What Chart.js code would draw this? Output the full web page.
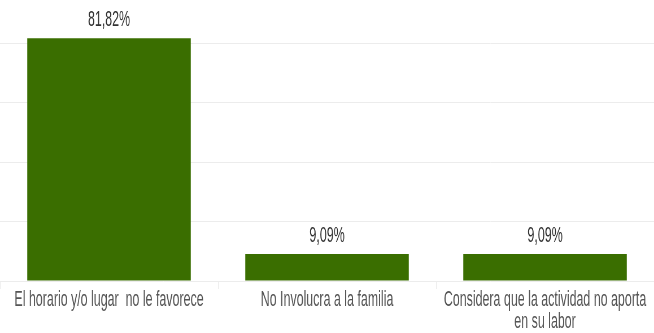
<!DOCTYPE html>
<html>
<head>
<meta charset="utf-8">
<script src="https://cdn.jsdelivr.net/npm/chart.js@4.4.1/dist/chart.umd.min.js"></script>
<style>
  html, body { margin: 0; padding: 0; background: #fff; overflow: hidden; }
  /* the chart is laid out wide and squeezed back to 654px, giving the tall narrow lettering */
  #wrap { width: 1158px; height: 333px; transform: scaleX(0.5648); transform-origin: 0 0; }
</style>
</head>
<body>
<div id="wrap"><canvas id="motivos"></canvas></div>
<script>
const categories = [
  "El horario y/o lugar  no le favorece",
  "No Involucra a la familia",
  ["Considera que la actividad no aporta", "en su labor"]
];
const percentages = [81.82, 9.09, 9.09];
const gridSteps = [0, 20, 40, 60, 80];

// value written over each bar, e.g. "81,82%"
function pctText(v) {
  return v.toFixed(2).replace(".", ",") + "%";
}

const valueLabels = {
  id: "valueLabels",
  afterDatasetsDraw(chart) {
    const ctx = chart.ctx;
    const meta = chart.getDatasetMeta(0);
    ctx.save();
    ctx.font = "22px 'Liberation Sans', Arial, sans-serif";
    ctx.fillStyle = "#333";
    ctx.textAlign = "center";
    ctx.textBaseline = "middle";
    for (let i = 0; i < meta.data.length; i++) {
      const bar = meta.data[i];
      ctx.fillText(pctText(percentages[i]), bar.x, bar.y - 18);
    }
    ctx.restore();
  }
};

new Chart(document.getElementById("motivos"), {
  type: "bar",
  data: {
    labels: categories,
    datasets: [{
      data: percentages,
      backgroundColor: "#3a6e00",
      barPercentage: 0.75,
      categoryPercentage: 1
    }]
  },
  options: {
    responsive: true,
    maintainAspectRatio: false,
    animation: false,
    layout: { padding: { top: 2, left: 0, right: 0, bottom: 0 } },
    plugins: {
      legend: { display: false },
      tooltip: { enabled: false }
    },
    scales: {
      x: {
        border: { display: false },
        grid: { drawOnChartArea: false, drawTicks: true, tickLength: 8, color: "#e8e8e8" },
        ticks: {
          color: "#555",
          padding: 0,
          maxRotation: 0,
          autoSkip: false,
          font: { family: "'Liberation Sans', Arial, sans-serif", size: 22, lineHeight: 1.0 }
        }
      },
      y: {
        min: 0,
        max: 94,
        border: { display: false },
        ticks: { display: false, stepSize: 20 },
        grid: {
          drawTicks: false,
          color: (c) => gridSteps.includes(c.tick.value) ? "#ececec" : "rgba(0,0,0,0)"
        }
      }
    }
  },
  plugins: [valueLabels]
});
</script>
</body>
</html>
